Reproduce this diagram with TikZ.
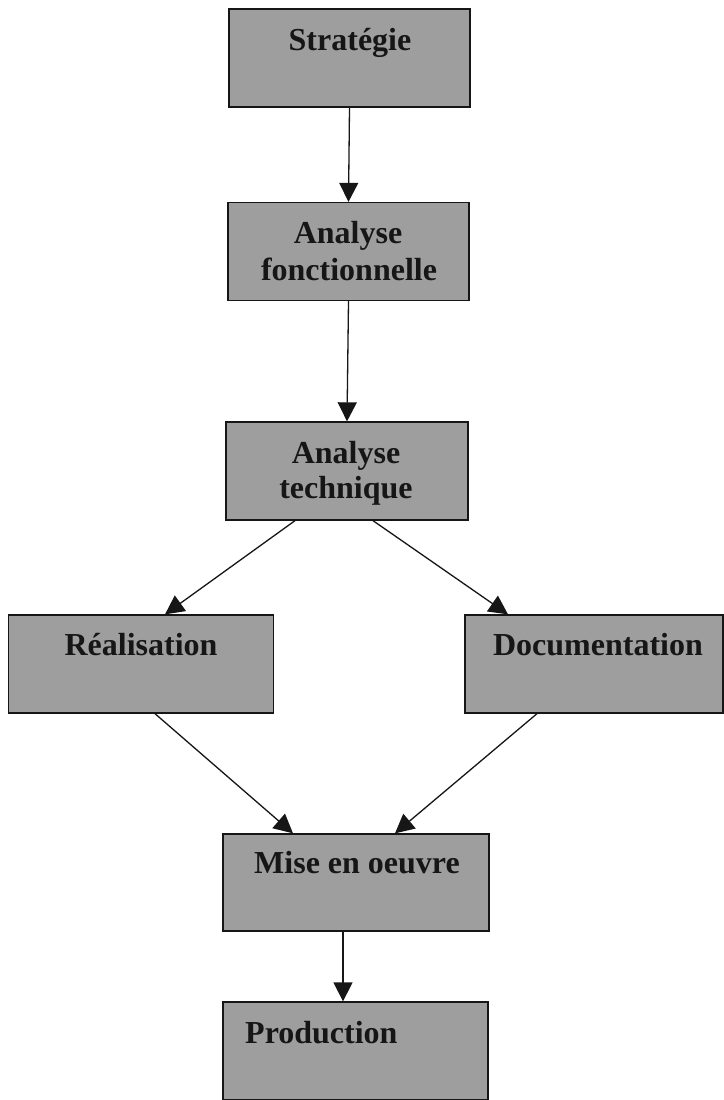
\documentclass[tikz,border=0pt]{standalone}
\usepackage{fontspec}
\setmainfont{Liberation Serif}
\usetikzlibrary{arrows.meta,calc}
\definecolor{boxgray}{RGB}{158,158,158}
\definecolor{inkdark}{RGB}{22,22,22}
\begin{document}
\begin{tikzpicture}[x=1pt,y=-1pt,
  stage/.style={draw=inkdark,line width=1.3pt,fill=boxgray,rectangle,inner sep=0pt,
    minimum height=98pt},
  caption/.style={anchor=base,font=\fontsize{32}{36}\selectfont\bfseries,text=inkdark,inner sep=0pt},
  flow/.style={draw=inkdark,line width=1.3pt,-{Triangle[width=19pt,length=19pt]}}]
\useasboundingbox (0,0) rectangle (723,1100);
\fill[white] (0,0) rectangle (723,1100);

% process stages
\node[stage,minimum width=241pt] (str) at (349.5,58) {};
\node[stage,minimum width=241pt] (af)  at (348.5,251.5) {};
\node[stage,minimum width=242pt] (at)  at (347,471) {};
\node[stage,minimum width=265pt] (rea) at (141,664) {};
\node[stage,minimum width=258pt] (doc) at (594,664) {};
\node[stage,minimum width=266pt,minimum height=97pt] (meo) at (356,882.5) {};
\node[stage,minimum width=265pt] (prod) at (355.5,1051) {};

% captions
\node[caption] (tstr) at (350,50) {Stratégie};
\node[caption] (taf1) at (348,243) {Analyse};
\node[caption] (taf2) at (349,280) {fonctionnelle};
\node[caption] (tat1) at (346,463) {Analyse};
\node[caption] (tat2) at (346,498) {technique};
\node[caption] (trea) at (141,655) {Réalisation};
\node[caption] (tdoc) at (598,655) {Documentation};
\node[caption] (tmeo) at (357,873) {Mise en oeuvre};
\node[caption,anchor=base west] (tprod) at (245,1043) {Production};

% connectors
\draw[flow] (str.south) -- (af.north);
\draw[flow] (af.south) -- (at.north);
\draw[flow] ([xshift=-52pt]at.south) -- ([xshift=24pt]rea.north);
\draw[flow] ([xshift=26pt]at.south) -- ([xshift=-86pt]doc.north);
\draw[flow] ([xshift=14pt]rea.south) -- ([xshift=-63pt]meo.north);
\draw[flow] ([xshift=-57pt]doc.south) -- ([xshift=39pt]meo.north);
\draw[flow] ([xshift=-13pt]meo.south) -- ([xshift=-12.5pt]prod.north);
\end{tikzpicture}
\end{document}
